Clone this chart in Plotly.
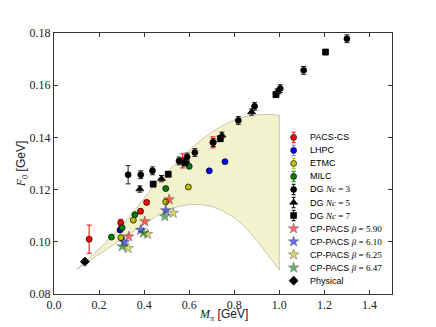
import plotly.graph_objects as go

# ---------------- data ----------------
pacs_x = [0.156, 0.296, 0.384, 0.411, 0.571, 0.705]
pacs_y = [0.1010, 0.1073, 0.1117, 0.1151, 0.1310, 0.1381]
pacs_e = [0.0054, 0.0013, 0.0008, 0.0008, 0.0027, 0.0021]

lhpc_x = [0.293, 0.689, 0.759]
lhpc_y = [0.1045, 0.1272, 0.1307]

etmc_x = [0.297, 0.352, 0.496, 0.596]
etmc_y = [0.1016, 0.1083, 0.1153, 0.1210]

milc_x = [0.255, 0.302, 0.359, 0.496, 0.600]
milc_y = [0.1018, 0.1054, 0.1104, 0.1204, 0.1289]

dg3_x = [0.329, 0.385, 0.437, 0.555, 0.591, 0.625, 0.707, 0.818, 0.890, 1.004, 1.108, 1.300]
dg3_y = [0.1257, 0.1257, 0.1272, 0.1310, 0.1325, 0.1342, 0.1380, 0.1465, 0.1519, 0.1587, 0.1657, 0.1778]
dg3_e = [0.0035, 0.0015, 0.0015, 0.0015, 0.0015, 0.0015, 0.0015, 0.0015, 0.0015, 0.0015, 0.0015, 0.0015]

dg5_x = [0.381, 0.477, 0.585, 0.745, 0.877, 0.990]
dg5_y = [0.1202, 0.1242, 0.1310, 0.1408, 0.1497, 0.1574]
dg5_e = [0.0012, 0.0012, 0.0012, 0.0012, 0.0012, 0.0012]

dg7_x = [0.440, 0.507, 0.581, 0.738, 0.985, 1.205]
dg7_y = [0.1221, 0.1259, 0.1302, 0.1395, 0.1564, 0.1727]
dg7_e = [0.0010, 0.0010, 0.0010, 0.0010, 0.0010, 0.0010]

cp590_x = [0.332, 0.403, 0.511]
cp590_y = [0.1020, 0.1078, 0.1162]
cp610_x = [0.312, 0.385, 0.496]
cp610_y = [0.0998, 0.1045, 0.1120]
cp625_x = [0.329, 0.415, 0.529]
cp625_y = [0.0975, 0.1029, 0.1110]
cp647_x = [0.303, 0.397, 0.492]
cp647_y = [0.0982, 0.1034, 0.1097]

phys_x = [0.137]
phys_y = [0.0924]

band_x = [0.10, 0.15, 0.20, 0.25, 0.30, 0.35, 0.40, 0.45, 0.50, 0.55,
          0.60, 0.65, 0.70, 0.75, 0.80, 0.85, 0.90, 0.95, 1.00]
band_upper = [0.0894, 0.0932, 0.0972, 0.1015, 0.1060, 0.1112, 0.1168, 0.1222, 0.1266, 0.1310,
              0.1351, 0.1388, 0.1420, 0.1447, 0.1467, 0.1480, 0.1487, 0.1488, 0.1485]
band_lower = [0.0894, 0.0923, 0.0952, 0.0980, 0.1008, 0.1037, 0.1067, 0.1096, 0.1119, 0.1135,
              0.1143, 0.1143, 0.1135, 0.1118, 0.1092, 0.1055, 0.1005, 0.0950, 0.0892]

x_ticks = [0.0, 0.2, 0.4, 0.6, 0.8, 1.0, 1.2, 1.4]
y_ticks = [0.08, 0.10, 0.12, 0.14, 0.16, 0.18]

SERIF = "Liberation Serif"
SANS = "Liberation Sans"

def m(s):
    return '<span style="font-family:Liberation Serif">' + s + '</span>'

legend_labels = ["PACS-CS", "LHPC", "ETMC", "MILC",
                 "DG " + m("<i>Nc</i> = 3"), "DG " + m("<i>Nc</i> = 5"), "DG " + m("<i>Nc</i> = 7"),
                 "CP-PACS " + m("<i>β</i> = 5.90"), "CP-PACS " + m("<i>β</i> = 6.10"),
                 "CP-PACS " + m("<i>β</i> = 6.25"), "CP-PACS " + m("<i>β</i> = 6.47"),
                 "Physical"]

RED = "rgb(255,0,0)"
BLUE = "rgb(0,0,255)"
YEL = "rgb(191,191,0)"
GRN = "rgb(0,128,0)"
BLK = "black"

fig = go.Figure()

# band
fig.add_trace(go.Scatter(
    x=band_x + band_x[::-1], y=band_upper + band_lower[::-1],
    fill="toself", mode="lines", fillcolor="rgba(191,191,0,0.2)",
    line=dict(color="rgba(140,140,110,0.55)", width=0.8), hoverinfo="skip", showlegend=False))

def circ(x, y, color, err=None, errcolor=None, symbol="circle", size=6):
    kw = {}
    if err is not None:
        kw["error_y"] = dict(type="data", array=err, visible=True, color=errcolor or color,
                             thickness=1, width=2.5)
    fig.add_trace(go.Scatter(x=x, y=y, mode="markers", showlegend=False,
                             marker=dict(symbol=symbol, size=size, color=color,
                                         line=dict(color="black", width=0.7)), **kw))

def star(x, y, color):
    fig.add_trace(go.Scatter(x=x, y=y, mode="markers", showlegend=False, opacity=0.6,
                             marker=dict(symbol="star", size=8, color=color,
                                         line=dict(color="black", width=0.5))))

circ(pacs_x, pacs_y, RED, pacs_e)
circ(lhpc_x, lhpc_y, BLUE)
circ(etmc_x, etmc_y, YEL)
circ(milc_x, milc_y, GRN)
circ(dg5_x, dg5_y, BLK, dg5_e, "#222", symbol="triangle-up", size=7)
circ(dg7_x, dg7_y, BLK, dg7_e, "#222", symbol="square", size=6)
circ(dg3_x, dg3_y, BLK, dg3_e, "#222", symbol="circle", size=6)
star(cp590_x, cp590_y, RED)
star(cp610_x, cp610_y, BLUE)
star(cp625_x, cp625_y, YEL)
star(cp647_x, cp647_y, GRN)
circ(phys_x, phys_y, BLK, symbol="diamond", size=7)

# ---------------- custom legend (plot-fraction coords) ----------------
leg_x = 0.709
leg_tx = 0.752
leg_y0 = 0.600
leg_dy = 0.0499
leg_specs = [("circle", RED, 6, 1.0, RED), ("circle", BLUE, 6, 1.0, "rgba(0,0,255,0.5)"),
             ("circle", YEL, 6, 1.0, YEL), ("circle", GRN, 6, 1.0, GRN),
             ("circle", BLK, 6, 1.0, BLK), ("triangle-up", BLK, 7, 1.0, BLK),
             ("square", BLK, 6, 1.0, BLK),
             ("star", RED, 8, 0.6, None), ("star", BLUE, 8, 0.6, None),
             ("star", YEL, 8, 0.6, None), ("star", GRN, 8, 0.6, None),
             ("diamond", BLK, 7, 1.0, None)]
for i, (sym, col, sz, op, ec) in enumerate(leg_specs):
    yy = leg_y0 - i * leg_dy
    kw = {}
    if ec is not None:
        kw["error_y"] = dict(type="constant", value=0.02, color=ec, thickness=1, width=2)
    fig.add_trace(go.Scatter(x=[leg_x], y=[yy], xaxis="x2", yaxis="y2", mode="markers",
                             showlegend=False, opacity=op, hoverinfo="skip",
                             marker=dict(symbol=sym, size=sz, color=col,
                                         line=dict(color="black", width=0.6 if op == 1 else 0.5)),
                             **kw))
    fig.add_annotation(x=leg_tx, y=yy, xref="paper", yref="paper", text=legend_labels[i],
                       showarrow=False, xanchor="left", yanchor="middle",
                       font=dict(family=SANS, size=9, color="black"))

# x-axis title placed as an annotation for exact position
fig.add_annotation(x=0.502, y=-0.079, xref="paper", yref="paper",
                   text=m("<i>M</i><sub>π</sub>") + " [GeV]", showarrow=False,
                   xanchor="center", yanchor="middle",
                   font=dict(family=SANS, size=12, color="#222"))

axcommon = dict(showline=True, linecolor="#333", linewidth=1, mirror="ticks", ticks="inside",
                ticklen=4, tickwidth=0.8, tickcolor="#333", showgrid=False, zeroline=False,
                automargin=False, tickfont=dict(family=SERIF, size=12, color="#222"))

# page body has an 8px default margin, so the figure is offset by (8, 8) in the window
fig.update_layout(
    width=428, height=319,
    margin=dict(l=46, r=44, t=25, b=33),
    paper_bgcolor="white", plot_bgcolor="white",
    showlegend=False,
    xaxis=dict(range=[0, 1.5], tickvals=x_ticks, ticktext=["%.1f" % v for v in x_ticks],
               **axcommon),
    yaxis=dict(range=[0.08, 0.18], tickvals=y_ticks, ticktext=["%.2f" % v for v in y_ticks],
               title=dict(text=m("<i>F</i><sub>0</sub>") + " [GeV]", standoff=0,
                          font=dict(family=SANS, size=12, color="#222")),
               **axcommon),
    xaxis2=dict(overlaying="x", range=[0, 1], visible=False),
    yaxis2=dict(overlaying="y", range=[0, 1], visible=False),
)

fig.write_html("out.html")
